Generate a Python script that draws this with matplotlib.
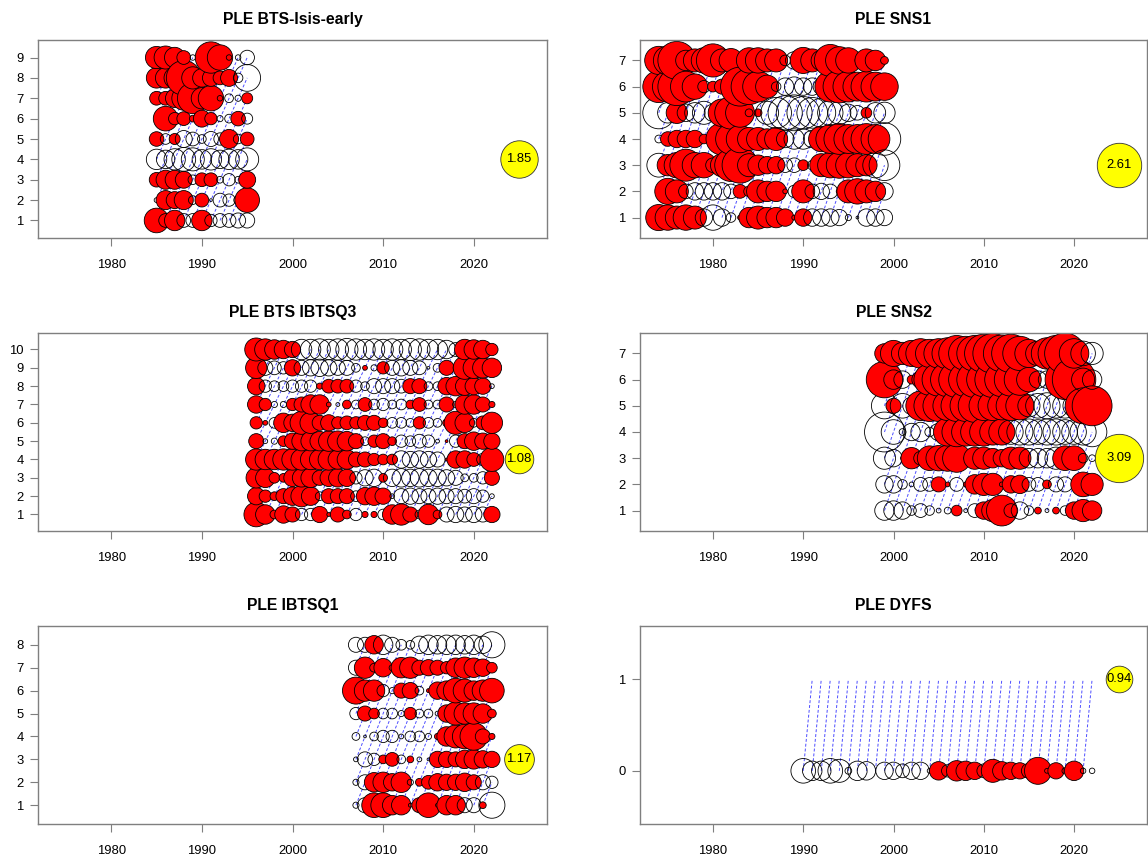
import numpy as np
import matplotlib
matplotlib.use('Agg')
import matplotlib.pyplot as plt

plt.rcParams['font.family'] = ['Liberation Sans', 'DejaVu Sans']

W, H, DPI = 1148, 858, 100
BUBBLE_PX = 27.5          # bubble diameter (px) for |residual| = 1
XLIM = (1971.92, 2028.08)
XTICKS = [1980, 1990, 2000, 2010, 2020]
NA = np.nan

# ---- PLE BTS-Isis-early: ages 1-9, years from 1985 --------------------
ISIS_YEAR0 = 1985
ISIS_AGES = [1, 2, 3, 4, 5, 6, 7, 8, 9]
ISIS_RES = [
    [0.8, -0.25, 0.55, -0.25, -0.25, 0.55, -0.2, -0.25, -0.25, -0.3, -0.3],
    [-0.03, 0.48, 0.38, 0.48, -0.1, 0.25, -0.01, -0.25, -0.2, -0.1, 0.8],
    [0.28, 0.48, 0.48, 0.38, -0.12, 0.25, 0.25, -0.06, -0.2, -0.06, 0.38],
    [-0.55, -0.45, -0.6, -0.75, -0.7, -0.5, -0.6, -0.45, -0.55, -0.5, -0.7],
    [0.28, -0.15, 0.16, -0.38, -0.25, -0.1, -0.3, -0.2, 0.48, -0.12, 0.25],
    [-0.02, 0.8, 0.2, 0.25, 0.06, 0.38, 0.2, -0.05, -0.1, 0.28, -0.16],
    [0.25, 0.25, 0.45, 0.75, 1.25, 0.6, 0.85, -0.04, -0.1, -0.05, 0.16],
    [0.55, 0.55, 0.6, 1.6, 0.65, 0.45, 0.38, 0.25, 0.38, -0.12, -0.95],
    [0.65, 0.7, 0.55, 0.25, -0.04, 0.1, 1.3, 0.85, 0.04, -0.04, -0.28],
]

# ---- PLE SNS1: ages 1-7, years from 1974 -------------------------------
SNS1_YEAR0 = 1974
SNS1_AGES = [1, 2, 3, 4, 5, 6, 7]
SNS1_RES = [
    [0.9, 0.85, 0.7, 0.85, 0.7, -0.4, -0.85, -0.4, -0.12, 0.03, 0.55, 0.7, 0.55,
     0.55, 0.4, 0.03, 0.4, -0.4, -0.4, -0.4, -0.35, -0.05, -0.01, -0.4, -0.4, -0.35],
    [-0.03, 0.9, 0.7, -0.28, -0.4, -0.4, -0.4, -0.4, -0.28, 0.25, 0.15, 0.7, 0.55,
     0.55, 0.03, -0.2, 0.7, -0.28, -0.35, -0.28, 0.05, 0.7, 0.85, 0.7, 0.55, -0.4],
    [-0.75, 0.6, 0.85, 1.35, 0.85, 0.85, -0.28, 0.7, 1.4, 1.7, 0.7, 0.55, 0.4,
     0.4, -0.28, -0.28, 0.15, -0.12, 0.7, 0.85, 0.9, 0.85, 0.7, 0.6, -0.85, -1.25],
    [-0.08, 0.28, 0.4, 0.4, 0.4, 0.12, -0.08, 1.35, 1.25, 1.0, 0.7, 0.7, 0.55,
     0.7, -0.4, -0.55, -0.55, -0.4, 0.85, 1.1, 1.25, 1.1, 1.1, 1.25, 1.1, -1.4],
    [-1.35, -0.55, 0.6, -0.4, -0.55, -0.7, -0.4, 1.0, 1.4, 1.1, 0.08, 0.08, -0.7,
     -1.25, -1.55, -1.7, -1.4, -1.25, -1.1, -0.85, -0.7, -0.4, -0.28, 0.15, -0.55, -0.6],
    [1.35, 1.25, 1.9, 1.25, 0.85, -0.2, 0.15, 0.3, -0.03, 2.0, 1.7, 1.25, 0.7,
     -0.12, -0.4, -0.5, -0.4, -0.4, -0.35, 1.25, 1.4, 1.25, 1.1, 1.25, 1.1, 1.0],
    [1.05, 1.1, 1.9, 0.55, 0.7, 0.85, 1.45, 0.7, 0.75, -0.03, 0.85, 0.85, 0.7,
     0.7, -0.15, -0.4, 0.9, 0.7, -0.55, 1.35, 1.0, 0.85, -0.03, 0.7, 0.55, 0.08],
]

# ---- PLE BTS IBTSQ3: ages 1-10, years from 1996 ------------------------
Q3_YEAR0 = 1996
Q3_AGES = [1, 2, 3, 4, 5, 6, 7, 8, 9, 10]
Q3_RES = [
    [0.8, 0.5, 0.1, 0.4, 0.3, -0.2, -0.2, 0.35, 0.02, 0.3, 0.1, -0.2, 0.05, 0.05,
     -0.15, 0.5, 0.6, 0.3, -0.1, 0.55, 0.1, -0.3, -0.35, -0.3, -0.35, -0.3, 0.35],
    [0.4, 0.2, 0.1, 0.3, 0.45, 0.6, 0.45, -0.1, 0.3, 0.3, 0.3, -0.15, 0.4, 0.45,
     0.35, -0.03, -0.3, -0.35, -0.3, -0.3, -0.35, -0.3, -0.3, -0.25, -0.3, -0.2, -0.03],
    [0.55, 0.5, 0.15, 0.1, 0.4, 0.45, 0.5, 0.3, 0.4, 0.45, 0.4, -0.2, -0.35, -0.4,
     0.1, -0.4, -0.45, -0.4, -0.45, -0.4, -0.4, -0.35, -0.3, -0.08, -0.1, -0.2, 0.3],
    [0.6, 0.55, 0.55, 0.6, 0.6, 0.6, 0.55, 0.55, 0.6, 0.5, 0.5, 0.3, 0.3, 0.2,
     0.15, 0.15, -0.4, -0.35, -0.4, -0.35, -0.3, 0.01, 0.4, 0.4, 0.25, -0.2, 0.75],
    [0.3, -0.03, -0.05, 0.15, 0.35, 0.5, 0.5, 0.5, 0.55, 0.55, 0.5, 0.3, -0.1, 0.2,
     0.3, 0.1, -0.2, -0.15, -0.25, -0.2, -0.02, 0.01, -0.2, 0.3, 0.45, 0.35, 0.35],
    [0.2, 0.03, -0.15, 0.5, 0.4, 0.7, 0.6, 0.3, 0.35, 0.2, 0.25, 0.2, 0.3, 0.3,
     0.12, -0.15, -0.15, -0.1, 0.2, -0.15, -0.1, 0.08, 0.7, 0.5, -0.1, 0.25, 0.6],
    [0.4, 0.2, -0.05, -0.05, 0.2, 0.3, 0.5, 0.5, 0.03, -0.02, 0.1, -0.1, 0.25, -0.15,
     -0.2, -0.1, -0.15, 0.1, 0.25, -0.1, -0.1, 0.3, -0.05, 0.5, 0.5, 0.3, 0.05],
    [0.4, -0.2, -0.15, -0.15, -0.2, -0.2, -0.2, 0.05, 0.25, 0.25, 0.25, -0.2, -0.1, -0.3,
     -0.3, -0.3, -0.25, 0.3, 0.3, -0.1, -0.1, 0.4, 0.5, 0.45, 0.4, 0.35, -0.03],
    [0.6, -0.3, -0.25, -0.2, 0.35, -0.3, -0.35, -0.4, -0.35, -0.3, -0.3, -0.1, 0.03, -0.05,
     0.2, -0.3, -0.35, -0.3, -0.25, -0.01, -0.1, 0.3, -0.03, 0.7, 0.6, 0.55, 0.5],
    [0.7, 0.6, 0.5, 0.45, 0.35, -0.55, -0.55, -0.6, -0.55, -0.6, -0.65, -0.6, -0.55, -0.6,
     -0.55, -0.6, -0.55, -0.65, -0.6, -0.55, -0.55, -0.45, -0.25, 0.55, 0.5, 0.45, 0.2],
]

# ---- PLE SNS2: ages 1-7, years from 1999 -------------------------------
SNS2_YEAR0 = 1999
SNS2_AGES = [1, 2, 3, 4, 5, 6, 7]
SNS2_RES = [
    [-0.5, -0.5, -0.4, -0.12, -0.25, -0.12, -0.03, -0.06, 0.15, -0.02, -0.25, 0.4,
     0.65, 1.25, -0.25, -0.4, -0.12, 0.06, -0.02, 0.06, -0.12, 0.4, 0.65, 0.5],
    [-0.4, -0.4, -0.12, -0.03, -0.25, -0.25, 0.3, 0.03, -0.25, 0.03, 0.5, 0.65,
     0.65, -0.03, 0.4, 0.45, -0.25, -0.25, 0.1, -0.3, -0.3, -0.02, 0.8, 0.65],
    [-0.65, -0.4, -0.02, 0.6, -0.25, 0.8, 0.85, 0.9, 1.05, -0.02, 0.65, 0.65,
     0.5, 0.4, 0.65, 0.65, -0.5, -0.5, -0.5, -0.65, 0.8, 0.8, -0.12, -0.06],
    [-2.1, -0.8, -0.06, -0.4, -0.5, -0.12, -0.4, 1.05, 1.15, 1.05, 1.05, 1.05,
     0.9, 0.9, -0.8, -0.9, -0.9, -0.8, -0.9, -0.9, -0.8, -0.8, -0.9, -1.15],
    [-0.9, 0.3, -0.8, -0.4, 1.15, 1.3, 1.3, 1.15, 1.3, 1.3, 1.45, 1.15,
     1.15, 1.05, 1.15, 1.05, -0.65, -0.8, -0.9, -0.8, -0.8, -0.65, 1.7, 2.1],
    [1.75, -0.5, -0.4, 0.1, 0.4, 1.3, 1.45, 1.55, 1.7, 1.55, 1.7, 1.55,
     1.7, 1.55, 1.45, 1.3, 0.8, -0.4, -0.4, 0.05, 2.1, 2.5, -0.7, -0.5],
    [0.5, 0.9, 0.65, 0.9, 1.15, 1.05, 1.15, 1.3, 1.7, 1.55, 1.7, 1.95,
     2.1, 1.8, 1.95, 1.55, 1.05, 0.8, 1.3, 1.7, 2.2, 1.15, -0.8, -0.65],
]

# ---- PLE IBTSQ1: ages 1-8, years from 2007 -----------------------------
Q1_YEAR0 = 2007
Q1_AGES = [1, 2, 3, 4, 5, 6, 7, 8]
Q1_RES = [
    [-0.05, -0.3, 0.8, 0.8, 0.5, 0.5, -0.02, 0.3, 0.8, -0.02, 0.5, 0.5, -0.3, -0.3, 0.06, -0.9],
    [-0.05, -0.3, 0.5, 0.55, 0.4, 0.55, -0.05, 0.08, 0.25, 0.4, 0.35, 0.35, 0.45, 0.3, -0.3, -0.2],
    [-0.03, -0.3, -0.2, 0.1, 0.25, -0.1, 0.06, -0.03, -0.01, 0.35, 0.35, 0.3, 0.45, 0.5, 0.4, 0.35],
    [-0.08, -0.01, -0.1, -0.2, -0.2, -0.03, -0.15, -0.15, -0.05, 0.05, 0.5, 0.7, 0.8, 1.0, 0.3, 0.05],
    [-0.2, 0.3, 0.15, -0.15, -0.15, -0.05, 0.2, -0.1, -0.1, -0.03, 0.4, 0.7, 0.6, 0.6, 0.5, 0.1],
    [0.96, 0.6, 0.6, -0.2, -0.05, 0.3, 0.35, -0.1, 0.02, 0.4, 0.5, 0.8, 0.7, 0.5, 0.6, 0.8],
    [-0.3, 0.6, -0.1, 0.45, -0.05, 0.55, 0.6, 0.3, 0.35, 0.3, 0.2, 0.5, 0.6, 0.5, 0.4, 0.15],
    [-0.3, -0.3, 0.45, -0.5, -0.3, -0.15, -0.1, -0.4, -0.5, -0.45, -0.5, -0.5, -0.45, -0.5, -0.4, -0.9],
]

# ---- PLE DYFS: ages 0-1 (age 1 not observed), years from 1990 ----------
DYFS_YEAR0 = 1990
DYFS_AGES = [0, 1]
DYFS_RES = [
    [-0.8, -0.5, -0.5, -0.8, -0.7, -0.06, -0.5, -0.45, NA, -0.4, -0.4, -0.25,
     -0.4, -0.4, -0.03, 0.45, -0.2, 0.55, 0.5, 0.4, -0.25, 0.7, 0.45, 0.4,
     0.35, 0.3, 0.96, -0.03, 0.35, -0.05, 0.5, -0.04, -0.04],
    [NA] * 33,
]

# yellow reference bubble: value and the age it is drawn at (year 2025)
PANELS = [
    ('PLE BTS-Isis-early', ISIS_YEAR0, ISIS_AGES, ISIS_RES, 1.85, 4),
    ('PLE SNS1', SNS1_YEAR0, SNS1_AGES, SNS1_RES, 2.61, 3),
    ('PLE BTS IBTSQ3', Q3_YEAR0, Q3_AGES, Q3_RES, 1.08, 4),
    ('PLE SNS2', SNS2_YEAR0, SNS2_AGES, SNS2_RES, 3.09, 3),
    ('PLE IBTSQ1', Q1_YEAR0, Q1_AGES, Q1_RES, 1.17, 3),
    ('PLE DYFS', DYFS_YEAR0, DYFS_AGES, DYFS_RES, 0.94, 1),
]
LEGEND_YEAR = 2025

# panel boxes in pixels: left, right / top, bottom
COLS = [(38, 547), (640, 1147)]
ROWS = [(40, 238), (333, 531), (626, 824)]

AXIS_GREY = '#7f7f7f'
LINE_BLUE = '#4d4dff'


def _size(z):
    return (BUBBLE_PX * 72 / DPI) ** 2 * np.abs(z)


def _plot_panel(fig, box, title, year0, ages, res, zmax, zage):
    (left, right), (top, bottom) = box
    ax = fig.add_axes([left / W, 1 - bottom / H, (right - left) / W,
                       (bottom - top) / H])
    res = np.asarray(res, dtype=float)
    years = year0 + np.arange(res.shape[1])

    # cohort lines
    for c in range(years[0] - ages[-1], years[-1] - ages[0] + 1):
        aa = [a for a in ages if years[0] <= c + a <= years[-1]]
        if len(aa) > 1:
            ax.plot([c + a for a in aa], aa, color=LINE_BLUE, lw=0.7,
                    ls=(0, (3, 2)), zorder=1)

    # bubbles, year by year
    xs, ys, zs = [], [], []
    for j, yr in enumerate(years):
        for i, a in enumerate(ages):
            if not np.isnan(res[i, j]):
                xs.append(yr)
                ys.append(a)
                zs.append(res[i, j])
    zs = np.array(zs)
    faces = [(1, 0, 0, 1) if z > 0 else (1, 1, 1, 0) for z in zs]
    ax.scatter(xs, ys, s=_size(zs), facecolors=faces, edgecolors='black',
               linewidths=0.6, zorder=2)

    # reference bubble
    ax.scatter([LEGEND_YEAR], [zage], s=_size(zmax), facecolors='yellow',
               edgecolors='#333333', linewidths=0.6, zorder=3)
    ax.text(LEGEND_YEAR, zage, f'{zmax:.2f}', ha='center', va='center',
            fontsize=9.4, zorder=4)

    n = len(ages)
    ext = 0.04 * n
    ax.set_xlim(*XLIM)
    ax.set_ylim(ages[0] - 0.5 - ext, ages[-1] + 0.5 + ext)
    ax.set_xticks(XTICKS)
    ax.set_yticks(ages)
    for sp in ax.spines.values():
        sp.set_color(AXIS_GREY)
        sp.set_linewidth(1)
    ax.tick_params(colors=AXIS_GREY, labelcolor='black', labelsize=9.4,
                   length=5.8, width=0.8)
    ax.tick_params(axis='x', pad=9)
    ax.tick_params(axis='y', pad=4.5)
    ax.set_title(title, fontsize=11.3, fontweight='bold', pad=11.5)
    return ax


fig = plt.figure(figsize=(W / DPI, H / DPI), dpi=DPI)
for k, (title, year0, ages, res, zmax, zage) in enumerate(PANELS):
    box = (COLS[k % 2], ROWS[k // 2])
    _plot_panel(fig, box, title, year0, ages, res, zmax, zage)

fig.savefig('out.png', dpi=DPI)
